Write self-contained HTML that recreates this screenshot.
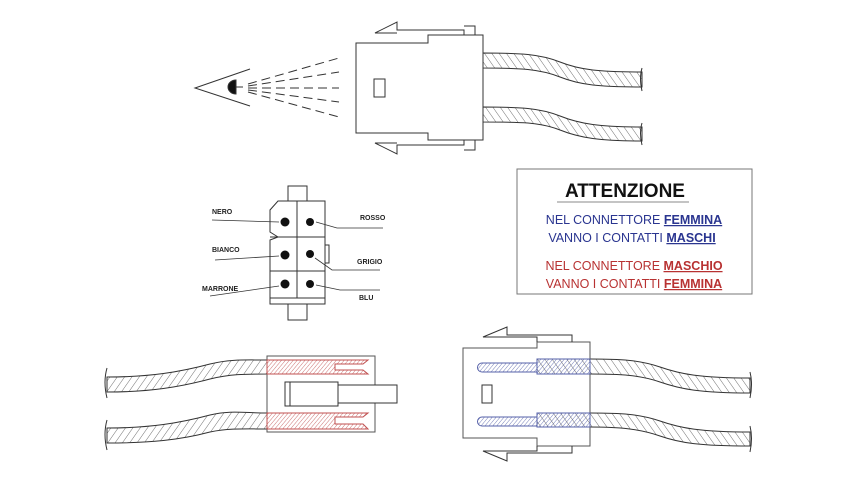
<!DOCTYPE html>
<html><head><meta charset="utf-8"><style>
html,body{margin:0;padding:0;background:#fff;}
svg{display:block;}
text{font-family:"Liberation Sans",sans-serif;}
</style></head><body>
<svg width="846" height="489" viewBox="0 0 846 489" xmlns="http://www.w3.org/2000/svg">
<defs>
<pattern id="hb" patternUnits="userSpaceOnUse" width="6" height="6" patternTransform="rotate(35)">
<line x1="0" y1="0" x2="0" y2="6" stroke="#333" stroke-width="0.7"/></pattern>
<pattern id="hbr" patternUnits="userSpaceOnUse" width="6" height="6" patternTransform="rotate(-35)">
<line x1="0" y1="0" x2="0" y2="6" stroke="#333" stroke-width="0.7"/></pattern>
<pattern id="hr" patternUnits="userSpaceOnUse" width="3" height="3" patternTransform="rotate(40)">
<line x1="0" y1="0" x2="0" y2="3" stroke="#c05050" stroke-width="0.8"/></pattern>
<pattern id="hu" patternUnits="userSpaceOnUse" width="3" height="3" patternTransform="rotate(40)">
<line x1="0" y1="0" x2="0" y2="3" stroke="#5560a8" stroke-width="0.8"/></pattern>
</defs>
<g fill="none" stroke="#333" stroke-width="1">
<!-- TOP: eye -->
<polyline points="250,69 195,88 250,106"/>
<path d="M236,80 A8,7 0 0 0 236,94 Z" fill="#111"/>
<line x1="236" y1="87" x2="243" y2="87"/>
<g stroke-dasharray="9,5">
<line x1="248" y1="84" x2="339" y2="58"/>
<line x1="248" y1="86" x2="339" y2="72"/>
<line x1="248" y1="88" x2="339" y2="88"/>
<line x1="248" y1="90" x2="339" y2="102"/>
<line x1="248" y1="92" x2="339" y2="117"/>
</g>
<!-- top connector -->
<path d="M356,43 H428 V35 H483 V140 H428 V133 H356 Z" fill="#fff"/>
<rect x="374" y="79" width="11" height="18"/>
<polyline points="464,35 464,30 397,30 397,22 375,33 397,33"/>
<polyline points="475,35 475,26 464,26"/>
<polyline points="464,140 464,145 397,145 397,154 375,143 397,143"/>
<polyline points="475,140 475,150 464,150"/>
<!-- top cables -->
<path d="M483,53 C520,53 540,54 560,62 C580,70 600,72 642,72 L642,87 C600,87 580,85 560,77 C540,69 520,68 483,68 Z" fill="url(#hbr)"/>
<path d="M483,107 C520,107 540,108 560,116 C580,124 600,127 642,127 L642,141 C600,141 580,138 560,130 C540,122 520,122 483,122 Z" fill="url(#hbr)"/>
<path d="M642,68 q-3,10 0,23 M642,123 q-3,10 0,22"/>
<!-- pinout -->
<rect x="288" y="186" width="19" height="15"/>
<rect x="288" y="304" width="19" height="16"/>
<rect x="325" y="245" width="4" height="18"/>
<path d="M278,201 H325 V304 H270 V240 L278,237 L270,232 V210 Z" fill="#fff"/>
<line x1="297" y1="201" x2="297" y2="298"/>
<line x1="270" y1="237" x2="325" y2="237"/>
<line x1="270" y1="271" x2="325" y2="271"/>
<line x1="270" y1="298" x2="325" y2="298"/>
<g fill="#111" stroke="none">
<circle cx="285" cy="222" r="4.5"/><circle cx="310" cy="222" r="4"/>
<circle cx="285" cy="255" r="4.5"/><circle cx="310" cy="254" r="4"/>
<circle cx="285" cy="284" r="4.5"/><circle cx="310" cy="284" r="4"/>
</g>
<g stroke-width="0.8">
<line x1="212" y1="220" x2="279" y2="222"/>
<line x1="215" y1="260" x2="279" y2="256"/>
<line x1="210" y1="296" x2="279" y2="286"/>
<polyline points="316,222 337,228 383,228"/>
<polyline points="315,258 332,270 380,270"/>
<polyline points="316,285 340,290 380,290"/>
</g>
<!-- bottom-left -->
<path d="M107,377 C150,377 180,372 210,364 C230,359 245,360 267,360 L267,374 C245,374 230,374 210,379 C180,387 150,392 107,392 Z" fill="url(#hb)"/>
<path d="M107,428 C150,428 180,423 210,415 C230,410 245,413 267,413 L267,429 C245,429 230,428 210,432 C180,440 150,443 107,443 Z" fill="url(#hb)"/>
<path d="M107,368 q-4,14 0,30 M107,420 q-4,14 0,30"/>
<rect x="267" y="356" width="108" height="76" stroke="#555"/>
<path d="M267,360 H368 L363,364 H335 V370 H363 L368,374 H267 Z" fill="url(#hr)" stroke="#c05050"/>
<path d="M267,413 H368 L363,417 H335 V424 H363 L368,429 H267 Z" fill="url(#hr)" stroke="#c05050"/>
<rect x="285" y="382" width="53" height="24" fill="#fff"/>
<line x1="290" y1="382" x2="290" y2="406"/>
<rect x="338" y="385" width="59" height="18" fill="#fff"/>
<!-- bottom-right -->
<path d="M463,348 H537 V342 H590 V446 H537 V438 H463 Z" fill="#fff" stroke="#555"/>
<polyline points="572,342 572,335 507,335 507,327 483,337 537,337 537,342"/>
<polyline points="572,446 572,453 507,453 507,461 483,451 537,451 537,446"/>
<rect x="482" y="385" width="10" height="18"/>
<path d="M537,359 H590 C620,359 640,360 660,367 C680,374 700,378 750,378 L750,393 C700,393 680,389 660,382 C640,375 620,374 590,374 H537 Z" fill="url(#hbr)"/>
<path d="M537,413 H590 C620,413 640,414 660,421 C680,428 700,432 750,432 L750,446 C700,446 680,443 660,436 C640,429 620,427 590,427 H537 Z" fill="url(#hbr)"/>
<rect x="537" y="359" width="53" height="15" fill="url(#hu)" stroke="#5560a8"/>
<rect x="537" y="413" width="53" height="14" fill="url(#hu)" stroke="#5560a8"/>
<path d="M537,363 H482 a4.5,4.5 0 0 0 0,9 H537 Z" fill="url(#hu)" stroke="#5560a8"/>
<path d="M537,417 H482 a4.5,4.5 0 0 0 0,9 H537 Z" fill="url(#hu)" stroke="#5560a8"/>
<path d="M750,372 q3,12 0,26 M750,426 q3,12 0,26"/>
<!-- attention box -->
<rect x="517" y="169" width="235" height="125" stroke="#777"/>
</g>
<g font-size="7" font-weight="bold" fill="#222">
<text x="212" y="214">NERO</text>
<text x="360" y="220">ROSSO</text>
<text x="212" y="252">BIANCO</text>
<text x="357" y="264">GRIGIO</text>
<text x="202" y="291">MARRONE</text>
<text x="359" y="300">BLU</text>
</g>
<text x="625" y="197" font-size="19" font-weight="bold" text-anchor="middle" fill="#111">ATTENZIONE</text>
<line x1="557" y1="202" x2="689" y2="202" stroke="#888" stroke-width="1"/>
<g font-size="12.5" text-anchor="middle">
<text x="634" y="224" fill="#2a3590">NEL CONNETTORE <tspan font-weight="bold" text-decoration="underline">FEMMINA</tspan></text>
<text x="632" y="242" fill="#2a3590">VANNO I CONTATTI <tspan font-weight="bold" text-decoration="underline">MASCHI</tspan></text>
<text x="634" y="270" fill="#b83232">NEL CONNETTORE <tspan font-weight="bold" text-decoration="underline">MASCHIO</tspan></text>
<text x="634" y="288" fill="#b83232">VANNO I CONTATTI <tspan font-weight="bold" text-decoration="underline">FEMMINA</tspan></text>
</g>
</svg>
</body></html>
